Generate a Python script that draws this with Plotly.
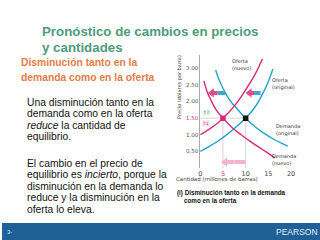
import plotly.graph_objects as go

# ---------------- data ----------------
supply_orig_x = [0, 2, 4, 6, 8, 10, 12, 14, 15, 16]
supply_orig_y = [0.5, 0.65, 0.82, 1.02, 1.25, 1.5, 1.82, 2.3, 2.6, 2.98]
supply_new_x = [0, 2, 4, 5, 6, 8, 10, 12, 13.7]
supply_new_y = [1.0, 1.17, 1.37, 1.5, 1.63, 1.95, 2.35, 2.8, 3.28]
demand_orig_x = [3.4, 4, 5, 6, 7, 8, 10, 12, 14, 16, 18, 19.3]
demand_orig_y = [2.95, 2.7, 2.4, 2.15, 1.95, 1.8, 1.5, 1.25, 1.05, 0.88, 0.74, 0.66]
demand_new_x = [0.8, 1.5, 2.5, 3.5, 5, 7, 9, 11, 13, 15, 16.5]
demand_new_y = [2.62, 2.3, 2.0, 1.75, 1.5, 1.22, 1.0, 0.8, 0.62, 0.44, 0.3]

eq_orig = (10, 1.5)
eq_new = (5, 1.5)

demand_shift = (5.5, 2.1, 2.26)   # from x, to x, price
supply_shift = (13.3, 10.4, 2.26)
quantity_shift = (10, 5, 0.18)

x_ticks = [0, 5, 10, 15, 20]
x_tick_labels = ["0", "<span style='color:#d6307e'>5</span>", "10", "15", "20"]
y_ticks = [0.5, 1.0, 1.5, 2.0, 2.5, 3.0]
y_tick_labels = ["0.50", "1.00", "<span style='color:#d6307e'>1.50</span>", "2.00", "2.50", "3.00"]

curve_labels = [
    ("Oferta<br>(nuevo)", 9.0, 3.12),
    ("Oferta<br>(original)", 18.3, 2.53),
    ("Demanda<br>(original)", 19.3, 1.14),
    ("Demanda<br>(nuevo)", 18.4, 0.27),
]

title_lines = ["Pronóstico de cambios en precios", "y cantidades"]
subtitle_lines = ["Disminución tanto en la", "demanda como en la oferta"]
block1 = ["Una disminución tanto en la", "demanda como en la oferta",
          "<i>reduce</i> la cantidad de", "equilibrio."]
block2 = ["El cambio en el precio de", "equilibrio es <i>incierto</i>, porque la",
          "disminución en la demanda lo", "reduce y la disminución en la",
          "oferta lo eleva."]
caption_lines = ["(i) Disminución tanto en la demanda", "como en la oferta"]

BLUE = "#22a3c8"
MAG = "#d42a78"
PINK_LIGHT = "#f5b3cf"
GREEN = "#4f9b7b"
ORANGE = "#e27c48"

W, H = 320, 240
fig = go.Figure()

def line(x, y, color):
    fig.add_trace(go.Scatter(x=x, y=y, mode="lines", line=dict(color=color, width=1.4, shape="spline"),
                             hoverinfo="skip", showlegend=False))

# guide lines
fig.add_trace(go.Scatter(x=[eq_new[0], eq_new[0]], y=[0, eq_new[1]], mode="lines",
                         line=dict(color="#f3c6d8", width=1), showlegend=False))
fig.add_trace(go.Scatter(x=[eq_orig[0], eq_orig[0], 0], y=[0, eq_orig[1], eq_orig[1]], mode="lines",
                         line=dict(color="#d5d5d5", width=1), showlegend=False))

line(supply_orig_x, supply_orig_y, BLUE)
line(demand_orig_x, demand_orig_y, BLUE)
line(supply_new_x, supply_new_y, MAG)
line(demand_new_x, demand_new_y, MAG)

# shift arrows
def arrow(shift, tail_color, head_color, width=4):
    x0, x1, yv = shift
    mid = (x0 + x1) / 2
    fig.add_trace(go.Scatter(x=[x0, mid], y=[yv, yv], mode="lines",
                             line=dict(color=tail_color, width=width), showlegend=False))
    fig.add_trace(go.Scatter(x=[mid, x1 + 0.7], y=[yv, yv], mode="lines",
                             line=dict(color=head_color, width=width), showlegend=False))
    fig.add_trace(go.Scatter(x=[x1 + 0.45], y=[yv], mode="markers",
                             marker=dict(symbol="triangle-left", size=8, color=head_color),
                             showlegend=False))

arrow(demand_shift, "#3fa7c9", "#dd4d8e")
arrow(supply_shift, "#3fa7c9", "#dd4d8e")
arrow(quantity_shift, PINK_LIGHT, PINK_LIGHT)

# equilibrium points
fig.add_trace(go.Scatter(x=[eq_new[0]], y=[eq_new[1]], mode="markers",
                         marker=dict(symbol="square", size=5.5, color=MAG), showlegend=False))
fig.add_trace(go.Scatter(x=[eq_orig[0]], y=[eq_orig[1]], mode="markers",
                         marker=dict(symbol="square", size=5.5, color="#111"), showlegend=False))

fig.update_xaxes(range=[0, 22], domain=[199.5 / W, 300 / W], tickvals=x_ticks, ticktext=x_tick_labels,
                 showgrid=False, zeroline=False, showline=False, ticks="",
                 tickfont=dict(family="DejaVu Sans", size=6.5, color="#444"), ticklabelstandoff=0)
fig.update_yaxes(range=[0, 3.4], domain=[1 - 168 / H, 1 - 55 / H], tickvals=y_ticks, ticktext=y_tick_labels,
                 showgrid=False, zeroline=False, showline=True, linecolor="#aaaaaa", linewidth=1, ticks="",
                 tickfont=dict(family="DejaVu Sans", size=5.5, color="#555"))

ann = []
for txt, xv, yv in curve_labels:
    ann.append(dict(x=xv, y=yv, xref="x", yref="y", text=txt, showarrow=False,
                    font=dict(family="DejaVu Sans", size=5, color="#333"), align="left"))
# question marks
ann.append(dict(x=1.3, y=1.68, xref="x", yref="y", text="↑?", showarrow=False, borderpad=0,
                font=dict(family="DejaVu Sans", size=4.5, color="#3d9a5f"), bgcolor="#dff0e4"))
ann.append(dict(x=1.3, y=1.34, xref="x", yref="y", text="?↓", showarrow=False, borderpad=0,
                font=dict(family="DejaVu Sans", size=4.5, color="#d6307e"), bgcolor="#fbdbe8"))
# axis titles
ann.append(dict(x=259 / W, y=1 - 183 / H, xref="paper", yref="paper", text="Cantidad (millones de barras)",
                showarrow=False, borderpad=0, font=dict(family="DejaVu Sans", size=5.5, color="#444")))
ann.append(dict(x=178 / W, y=1 - 87 / H, xref="paper", yref="paper", text="Precio (dólares por barra)",
                textangle=-90, showarrow=False, font=dict(family="DejaVu Sans", size=5, color="#444")))

def left_text(lines, x, y0, dy, size, color, bold=False, family="Liberation Sans"):
    for i, t in enumerate(lines):
        ann.append(dict(x=x / W, y=1 - (y0 + i * dy) / H, xref="paper", yref="paper",
                        text=f"<b>{t}</b>" if bold else t, showarrow=False, xanchor="left", yanchor="middle",
                        font=dict(family=family, size=size, color=color), borderpad=0, borderwidth=0))

left_text(title_lines, 40.5, 32, 16, 13.3, GREEN, bold=True)
left_text(subtitle_lines, 19, 63, 15, 10.3, ORANGE, bold=True)
left_text(block1, 25, 102, 11.6, 10.3, "#111")
left_text(block2, 25, 163, 11.6, 10.3, "#111")
left_text(caption_lines[:1], 176, 193, 7, 6.3, "#111", bold=True)
left_text(caption_lines[1:], 183, 200, 7, 6.3, "#111", bold=True)
left_text(["3-"], 5, 232, 10, 6, "#cfe0ee")
left_text(["PEARSON"], 276, 232, 10, 8.5, "#e8eef5", bold=False)

fig.update_layout(annotations=ann)
fig.add_shape(type="rect", xref="paper", yref="paper", x0=0, x1=1, y0=0, y1=1 - 223 / H,
              fillcolor="#1f6096", line=dict(width=0), layer="below")

fig.update_layout(width=W, height=H, margin=dict(l=0, r=0, t=0, b=0),
                  paper_bgcolor="white", plot_bgcolor="white", showlegend=False)
fig.write_html("out.html")
